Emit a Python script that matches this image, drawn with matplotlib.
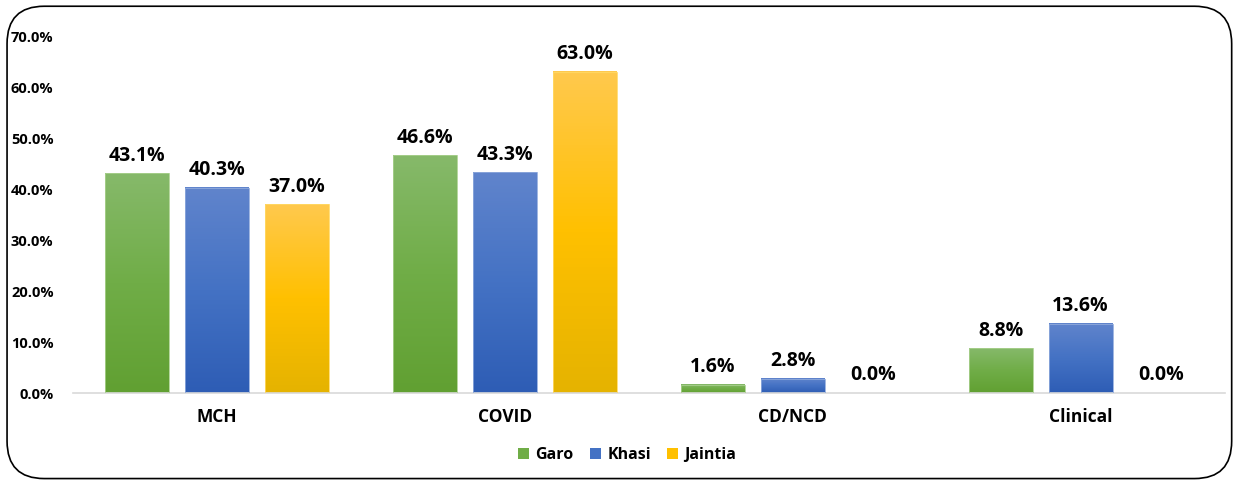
import matplotlib
matplotlib.use("Agg")
import matplotlib.pyplot as plt
import numpy as np
from matplotlib.patches import FancyBboxPatch, Patch, Rectangle
from matplotlib.colors import LinearSegmentedColormap

plt.rcParams["font.family"] = ["Open Sans", "DejaVu Sans"]
plt.rcParams["font.weight"] = "bold"

categories = ["MCH", "COVID", "CD/NCD", "Clinical"]
series = ["Garo", "Khasi", "Jaintia"]
garo = [43.1, 46.6, 1.6, 8.8]
khasi = [40.3, 43.3, 2.8, 13.6]
jaintia = [37.0, 63.0, 0.0, 0.0]
yticks = [0, 10, 20, 30, 40, 50, 60, 70]

## gradient stops (bottom, middle, top) and edge colour per series
grad = {
    "Garo": ("#61A032", "#70AD47", "#86B96A", "#A9D08E"),
    "Khasi": ("#2E5DB5", "#4472C4", "#6084CC", "#8FAADC"),
    "Jaintia": ("#E5B300", "#FFC000", "#FFC94D", "#FFD966"),
}

fig = plt.figure(figsize=(12.37, 4.8), dpi=100)
ax = fig.add_axes([0.059, 0.181, 0.931, 0.744])

x = np.arange(len(categories))
width = 0.222
step = 0.278
vals = [garo, khasi, jaintia]

for i, (name, v) in enumerate(zip(series, vals)):
    bot, mid, top, edge = grad[name]
    cmap = LinearSegmentedColormap.from_list(name, [bot, mid, top])
    for xi, val in zip(x + (i - 1) * step, v):
        x0 = xi - width / 2
        if val > 0:
            g = np.linspace(0, 1, 100).reshape(-1, 1)
            ax.imshow(g, cmap=cmap, origin="lower", aspect="auto",
                      extent=(x0, x0 + width, 0, val), zorder=2)
            ax.add_patch(Rectangle((x0, 0), width, val, facecolor="none",
                                   edgecolor=edge, linewidth=0.6, zorder=3))
        ax.text(xi, val + 1.5, "{0:.1f}%".format(val), ha="center", va="bottom",
                fontsize=14, fontweight="bold", color="black")

ax.set_xlim(-0.5, len(categories) - 0.5)
ax.set_ylim(0, 70)
ax.set_yticks(yticks)
ax.set_yticklabels(["{0:.1f}%".format(t) for t in yticks], fontsize=10.5, fontweight="bold")
ax.set_xticks(x)
ax.set_xticklabels(categories, fontsize=12.5, fontweight="bold")
ax.tick_params(axis="y", length=0, pad=14)
ax.tick_params(axis="x", length=0, pad=11)
for s in ["top", "right", "left"]:
    ax.spines[s].set_visible(False)
ax.spines["bottom"].set_color("#D9D9D9")
ax.spines["bottom"].set_linewidth(1.2)

handles = [Patch(facecolor=grad[n][1], label=n) for n in series]
fig.legend(handles=handles, loc="center", bbox_to_anchor=(0.507, 0.052), ncol=3,
           frameon=False, fontsize=11.5, handlelength=0.7, handleheight=0.7,
           handletextpad=0.4, columnspacing=1.0)

border = FancyBboxPatch((0.0057, 0.003), 0.99, 0.984,
                        boxstyle="round,pad=0,rounding_size=0.03",
                        transform=fig.transFigure, facecolor="none",
                        edgecolor="black", linewidth=1.2, mutation_aspect=2.6)
fig.patches.append(border)

fig.savefig("out.png", dpi=100)
